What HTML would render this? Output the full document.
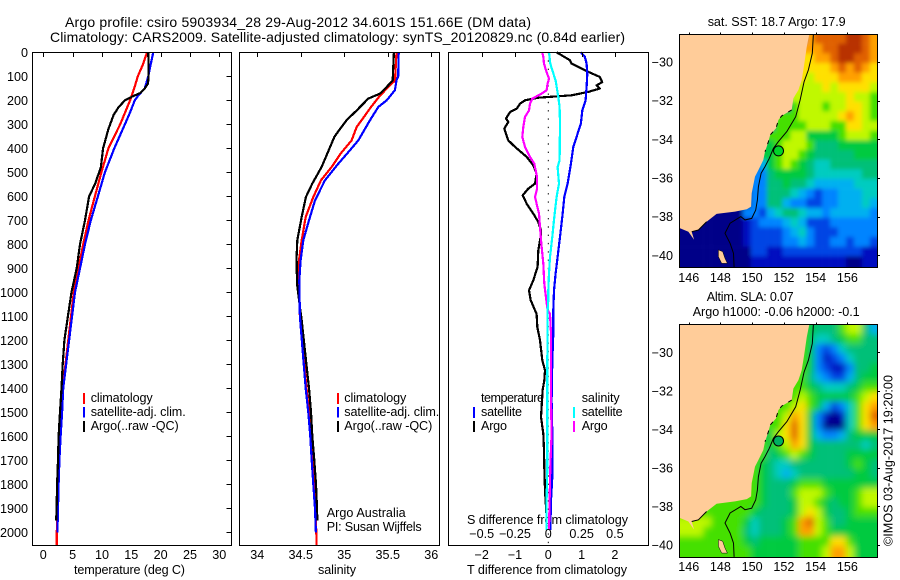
<!DOCTYPE html>
<html>
<head>
<meta charset="utf-8">
<title>Argo profile csiro 5903934_28</title>
<style>
html,body{margin:0;padding:0;background:#fff;}
svg{display:block;}
text{font-family:"Liberation Sans",sans-serif;font-size:12.6px;fill:#000;}
</style>
</head>
<body>
<svg id="fig" xmlns="http://www.w3.org/2000/svg" width="900" height="580" viewBox="0 0 900 580">
<rect x="0" y="0" width="900" height="580" fill="#fff"/>
<text x="65" y="27" style="font-size:14px" textLength="466">Argo profile: csiro 5903934_28 29-Aug-2012 34.601S 151.66E (DM data)</text>
<text x="50" y="42" style="font-size:14px" textLength="575">Climatology: CARS2009. Satellite-adjusted climatology: synTS_20120829.nc (0.84d earlier)</text>
<text x="74" y="574" textLength="111">temperature (deg C)</text>
<text x="318" y="574" textLength="38">salinity</text>
<text x="467" y="574" textLength="160">T difference from climatology</text>
<text x="467" y="524" textLength="161">S difference from climatology</text>
<text x="326.7" y="517" textLength="79">Argo Australia</text>
<text x="326.7" y="531" textLength="95">PI: Susan Wijffels</text>
<text x="707.7" y="26" textLength="138">sat. SST: 18.7 Argo: 17.9</text>
<text x="706.7" y="301" textLength="87">Altim. SLA: 0.07</text>
<text x="692.7" y="316" textLength="167">Argo h1000: -0.06 h2000: -0.1</text>
<text transform="translate(892.5,546) rotate(-90)" x="0" y="0" textLength="171">©IMOS 03-Aug-2017 19:20:00</text>
<g id="layer"></g>
</svg>
<script>
// ---- depth axis
const depthTicks = [0,100,200,300,400,500,600,700,800,900,1000,1100,1200,1300,1400,1500,1600,1700,1800,1900,2000];

// ---- temperature panel
const tempTicks = [0,5,10,15,20,25,30];
const climTempDepth = [0,50,100,150,200,300,400,500,600,700,800,900,1000,1400,1500,1600,1700,1800,1900,2000,2054];
const climTemp = [17.7,17.0,16.1,15.5,14.8,13.1,11.1,9.9,8.8,7.7,6.8,6.0,5.2,3.3,3.0,2.8,2.65,2.5,2.4,2.3,2.3];
const satTempDepth = [0,50,100,150,180,200,250,300,400,500,600,700,800,900,1000,1400,1500,1600,1700,1800,1900,2000];
const satTemp = [18.75,18.3,17.9,17.3,16.2,15.6,14.8,13.9,12.1,10.5,9.3,8.1,7.1,6.25,5.4,3.4,3.2,2.95,2.75,2.6,2.5,2.4];
const argoTempDepth = [0,100,130,150,170,185,200,230,260,320,400,480,550,600,700,800,900,1000,1100,1200,1300,1400,1500,1600,1700,1800,1900,1950];
const argoTemp = [17.9,17.95,17.85,17.3,16.5,15.1,13.9,12.8,12.0,11.1,10.2,9.8,8.8,7.8,7.1,6.25,5.7,4.8,4.2,3.6,3.3,3.1,2.85,2.6,2.5,2.35,2.27,2.2];

// ---- salinity panel
const salTicks = [34,34.5,35,35.5,36];
const climSalDepth = [0,100,117,144,186,228,283,311,367,422,478,533,603,686,783,867,978,1100,1400,1500,1600,1700,1800,1900,2000,2054];
const climSal = [35.6,35.585,35.585,35.505,35.399,35.307,35.199,35.142,35.084,34.958,34.854,34.732,34.644,34.556,34.51,34.479,34.479,34.49,34.565,34.594,34.615,34.632,34.65,34.667,34.678,34.682];
const satSalDepth = [0,100,117,158,200,228,283,367,408,464,533,617,700,783,867,950,1100,1400,1500,1600,1700,1800,1900,2000];
const satSal = [35.625,35.62,35.6,35.582,35.487,35.391,35.295,35.161,35.065,34.931,34.778,34.663,34.594,34.529,34.498,34.483,34.49,34.556,34.586,34.609,34.625,34.644,34.663,34.674];
const argoSalDepth = [0,117,144,172,193,214,242,283,325,353,422,478,547,603,686,783,853,964,1061,1117,1400,1500,1600,1700,1800,1900,1950];
const argoSal = [35.57,35.556,35.487,35.41,35.276,35.218,35.142,35.027,34.939,34.885,34.805,34.739,34.632,34.559,34.51,34.46,34.452,34.456,34.49,34.51,34.594,34.617,34.632,34.655,34.675,34.686,34.69];

// ---- difference panel
const dsTicks = [-0.5,-0.25,0,0.25,0.5];
const dsTickText = ["−0.5","−0.25","0","0.25","0.5"];
const dtTicks = [-2,-1,0,1,2];
const dtTickText = ["−2","−1","0","1","2"];
const argoDTDepth = [0,33,47,75,103,124,138,151,165,179,189,200,214,235,249,276,290,318,339,367,394,436,471,506,547,568,596,631,672,707,742,769,825,894,950,992,1033,1075,1089,1144,1200,1283,1325,1367,1408,1519,1589,1658,1728,1825,1936];
const argoDT = [0.25,0.65,0.70,1.10,1.55,1.62,1.45,1.55,1.20,0.70,-0.30,-0.70,-0.85,-0.95,-1.15,-1.27,-1.20,-1.32,-1.27,-1.20,-1.00,-0.65,-0.45,-0.35,-0.40,-0.60,-0.77,-0.65,-0.45,-0.30,-0.22,-0.23,-0.30,-0.32,-0.45,-0.58,-0.53,-0.40,-0.35,-0.33,-0.25,-0.18,-0.10,-0.12,-0.17,-0.22,-0.15,-0.13,-0.12,-0.10,-0.05];
const satDTDepth = [0,19,47,89,144,200,242,297,339,394,464,547,603,686,769,853,922,992,1075,1089,1172,1283,1450,1589,1770,1867,1990];
const satDT = [0.98,1.10,1.15,1.17,1.15,1.12,1.02,0.98,0.88,0.75,0.68,0.58,0.48,0.42,0.35,0.28,0.22,0.17,0.15,0.15,0.15,0.12,0.10,0.12,0.12,0.08,0.06];
const argoDSDepth = [0,19,47,75,110,131,158,172,193,214,242,269,311,353,394,436,464,519,569,603,672,783,880,964,1075,1089,1172,1283,1450,1589,1728,1867,1990];
const argoDS = [-0.045,-0.0375,-0.0325,-0.0175,0.005,-0.005,-0.0125,-0.05,-0.12,-0.1375,-0.145,-0.175,-0.1875,-0.195,-0.175,-0.1375,-0.105,-0.085,-0.085,-0.1,-0.07,-0.055,-0.0375,-0.03,-0.005,0.0125,0.02,0.02,0.02,0.025,0.015,0.01,0.005];
const satDSDepth = [0,47,75,117,186,228,297,450,478,547,603,686,769,853,922,992,1033,1075,1172,1283,1450,1728,1867,1990];
const satDS = [0.005,0.015,0.03,0.055,0.075,0.085,0.0875,0.085,0.07,0.08,0.0625,0.045,0.03,0.0125,0.005,0,0,-0.005,-0.005,-0.0075,-0.0075,-0.0075,-0.0125,-0.0125];

// ---- map axes
const lonTicks = [146,148,150,152,154,156];
const latTicks = [-30,-32,-34,-36,-38,-40];
const latTickText = ["−30","−32","−34","−36","−38","−40"];
const gridLonStart = 145.41;
const gridLonStep = 0.5;
const gridLatStart = -28.55;
const gridLatStep = 0.5;

// ---- satellite SST colour levels (rows north to south)
const sstLevels = [
[0,0,0,0,0,0,0,0,0,0,0,0,0,0,0,0,11,12,12,12,12,13,13,12,11],
[0,0,0,0,0,0,0,0,0,0,0,0,0,0,0,11,11,11,12,12,13,13,13,12,11],
[0,0,0,0,0,0,0,0,0,0,0,0,0,0,0,10,10,11,11,12,13,13,12,12,11],
[0,0,0,0,0,0,0,0,0,0,0,0,0,0,0,10,10,10,10,11,12,11,12,11,10],
[0,0,0,0,0,0,0,0,0,0,0,0,0,0,0,10,9,10,10,10,11,11,11,10,10],
[0,0,0,0,0,0,0,0,0,0,0,0,0,0,10,9,9,9,10,9,10,10,10,10,9],
[0,0,0,0,0,0,0,0,0,0,0,0,0,0,9,9,9,9,9,9,9,10,9,9,8],
[0,0,0,0,0,0,0,0,0,0,0,0,0,0,8,9,9,9,8,9,9,10,10,9,8],
[0,0,0,0,0,0,0,0,0,0,0,0,8,8,8,9,9,9,9,9,10,11,10,9,8],
[0,0,0,0,0,0,0,0,0,0,0,0,8,8,8,8,9,9,9,8,8,10,10,9,9],
[0,0,0,0,0,0,0,0,0,0,0,8,8,8,9,9,7,7,7,7,8,9,9,9,8],
[0,0,0,0,0,0,0,0,0,0,7,7,8,9,9,9,8,6,6,6,7,7,7,7,7],
[0,0,0,0,0,0,0,0,0,0,7,7,8,9,9,8,7,6,6,6,6,6,7,7,7],
[0,0,0,0,0,0,0,0,0,0,4,7,8,9,8,7,6,5,5,6,6,6,6,6,6],
[0,0,0,0,0,0,0,0,0,3,3,6,7,7,7,7,6,5,5,5,5,5,5,6,6],
[0,0,0,0,0,0,0,0,0,3,3,6,6,7,6,6,5,4,4,4,4,4,5,5,5],
[0,0,0,0,0,0,0,0,0,3,3,6,6,6,5,4,3,2,3,3,4,4,4,5,5],
[0,0,0,0,0,0,0,0,0,3,3,6,6,4,3,3,2,2,3,3,4,4,4,5,4],
[0,0,0,0,0,0,0,0,3,3,2,4,5,6,6,5,4,4,3,4,4,4,4,4,3],
[0,0,0,0,0,0,0,0,1,2,3,3,3,4,5,4,2,2,2,3,3,3,3,3,3],
[0,0,0,0,0,0,0,0,1,2,2,2,2,3,4,5,3,2,2,2,3,3,3,3,3],
[0,0,0,0,0,0,0,0,1,2,2,2,2,3,3,4,3,2,2,3,3,2,3,3,2],
[0,0,0,0,0,0,0,0,0,2,2,1,1,2,2,2,2,2,2,2,2,2,2,1,1],
[0,0,0,0,0,0,0,0,0,1,1,1,1,1,1,1,1,1,1,1,1,0,0,1,1]
];

// ---- altimeter SLA colour levels (rows north to south)
const slaLevels = [
[8,8,8,8,8,8,8,8,8,8,8,8,8,8,8,8,7,6,6,6,8,9,9,6,4],
[8,8,8,8,8,8,8,8,8,8,8,8,8,8,8,8,7,5,5,6,7,8,8,6,6],
[8,8,8,8,8,8,8,8,8,8,8,8,8,8,8,8,7,3,2,3,5,6,6,6,6],
[8,8,8,8,8,8,8,8,8,8,8,8,8,8,8,8,7,3,1,2,3,5,6,6,6],
[8,8,8,8,8,8,8,8,8,8,8,8,8,8,8,8,7,3,2,1,1,3,6,6,7],
[8,8,8,8,8,8,8,8,8,8,8,8,8,8,8,8,6,4,3,2,2,4,6,7,7],
[8,8,8,8,8,8,8,8,8,8,8,8,8,8,8,8,7,6,5,5,5,6,7,8,8],
[8,8,8,8,8,8,8,8,8,8,8,8,8,8,8,9,8,7,7,7,7,7,8,9,10],
[8,8,8,8,8,8,8,8,8,8,8,8,8,8,9,10,8,7,4,2,3,5,8,10,11],
[8,8,8,8,8,8,8,8,8,8,8,8,8,9,11,10,7,3,1,0,1,5,8,10,12],
[8,8,8,8,8,8,8,8,8,8,8,8,8,10,12,10,7,3,0,0,0,5,8,10,11],
[8,8,8,8,8,8,8,8,8,8,7,7,9,10,12,10,7,4,3,3,4,6,7,7,7],
[8,8,8,8,8,8,8,8,8,8,8,7,8,9,11,10,7,6,6,6,6,6,6,5,6],
[8,8,8,8,8,8,8,8,8,8,8,6,7,8,9,8,7,6,6,6,6,7,7,7,7],
[8,8,8,8,8,8,8,8,8,8,7,6,5,5,6,6,6,6,6,6,6,7,8,7,6],
[8,8,8,8,8,8,8,8,8,8,7,6,5,4,5,6,6,6,6,6,6,6,7,7,6],
[8,8,8,8,8,8,8,8,8,8,7,6,6,6,7,8,8,8,7,7,7,7,7,7,7],
[8,8,8,8,8,8,8,8,8,8,7,6,6,6,8,9,9,9,8,7,7,7,8,9,9],
[8,8,8,8,8,8,8,8,8,8,7,6,6,6,7,9,9,8,7,6,7,7,8,9,9],
[8,8,8,8,8,8,8,8,8,7,6,6,6,6,7,9,10,9,7,6,6,7,8,8,8],
[9,9,9,9,8,8,8,8,7,5,6,6,6,7,8,11,12,9,8,6,6,7,7,7,7],
[9,9,9,8,8,8,8,8,6,5,6,6,6,7,8,11,11,9,8,7,7,7,7,7,7],
[8,8,8,8,8,8,8,8,7,6,7,7,7,7,7,8,8,8,8,10,10,8,7,7,7],
[8,8,8,8,8,8,8,8,8,7,7,7,7,7,7,8,8,8,9,11,11,9,7,7,7]
];
const levelColours = ["#000088","#0010c0","#0044e4","#0084ff","#00b0f0","#00ccc0","#00c078","#00ca40","#44e000","#c0f800","#ffe000","#ffa000","#e06000","#b83000"];

// ---- geography
const coastLon = [153.6,153.44,153.27,153.12,152.91,152.6,152.49,151.86,151.65,151.5,151.13,151.02,150.81,150.7,150.39,150.18,149.97,149.93,149.66,148.92,147.76,147.13,146.61,146.19,146.34,145.98,145.45,145,145,153.6];
const coastLat = [-28.55,-29.2,-30.16,-30.93,-31.45,-31.88,-32.48,-32.79,-33.0,-33.43,-33.78,-34.12,-34.64,-35.07,-35.59,-35.93,-36.79,-37.48,-37.62,-37.74,-37.86,-38.26,-38.69,-38.78,-39.2,-38.78,-38.6,-38.6,-28,-28];
const rocksLon = [152.49,151.86,151.65,151.5,151.13,151.02,150.81];
const rocksLat = [-32.48,-32.79,-33.0,-33.43,-33.78,-34.12,-34.64];
const southRocksLon = [147.13,146.61,146.19];
const southRocksLat = [-38.26,-38.69,-38.78];
const islandLon = [147.87,148.14,148.29,148.44,148.08,147.87];
const islandLat = [-39.72,-39.81,-40.16,-40.42,-40.42,-40.07];
const contourLon = [153.86,153.79,153.54,153.27,153.02,152.74,152.18,151.65,151.34,151.08,150.81,150.56,150.39,150.33,150.22,149.97,149.55,149.28,148.61,148.29,148.61,148.82,148.86];
const contourLat = [-28.55,-29.55,-30.41,-31.02,-31.97,-32.83,-33.6,-34.12,-34.47,-34.98,-35.41,-35.76,-36.45,-37.14,-37.66,-38.09,-38.17,-38.0,-38.34,-38.86,-39.38,-39.9,-40.62];
const profileLon = 151.66;
const profileLat = -34.6;

// ---- axis functions
const yDepth = d => 52.3 + d * 0.24;
const xTemp = t => 43.3 + t * 5.867;
const xSal = s => 257.3 + (s - 34) * 87;
const xDT = v => 548.3 + v * 33.3;
const xDS = v => 548.3 + v * 133.2;
const mapX = lon => 688.7 + (lon - 146) * 15.87;
const mapYTop = lat => 62 + (-30 - lat) * 19.33;
const mapYBot = lat => 352.3 + (-30 - lat) * 19.27;

const NS = "http://www.w3.org/2000/svg";
const layer = document.getElementById("layer");
function make(tag, parent, attrs) {
  const el = document.createElementNS(NS, tag);
  for (const k in attrs) el.setAttribute(k, attrs[k]);
  parent.appendChild(el);
  return el;
}
function pts(xs, ys, fx, fy) {
  return xs.map((x, i) => fx(x).toFixed(1) + "," + fy(ys[i]).toFixed(1)).join(" ");
}
function drawSeries(name, xs, ds, fx, colour, width) {
  const el = make("polyline", layer, {points: pts(xs, ds, fx, yDepth), fill: "none", stroke: colour, "stroke-width": width, "shape-rendering": "crispEdges", "stroke-linejoin": "round"});
  
  
}
function drawTick(name, x1, y1, x2, y2) {
  const el = make("line", layer, {x1: x1, y1: y1, x2: x2, y2: y2, stroke: "#000", "stroke-width": 1, "shape-rendering": "crispEdges"});
  
  
}
function drawLabel(name, x, y, str, anchor) {
  const el = make("text", layer, {x: x, y: y, "text-anchor": anchor});
  el.textContent = str;
  
  
}
function drawBox(name, x, y, w, h) {
  const el = make("rect", layer, {x: x, y: y, width: w, height: h, fill: "none", stroke: "#000", "stroke-width": 1, "shape-rendering": "crispEdges"});
  
  
}
function drawLegendBar(name, x, y1, y2, colour) {
  const el = make("rect", layer, {x: x, y: y1, width: 2, height: y2 - y1, fill: colour});
  
  
}
function drawLegendText(name, x, y, str, len) {
  const el = make("text", layer, {x: x, y: y, textLength: len});
  el.textContent = str;
  
  
}

// ---- panel 1
drawSeries("climatology-temperature-line", climTemp, climTempDepth, xTemp, "#ff0000", 2.2);
drawSeries("satellite-temperature-line", satTemp, satTempDepth, xTemp, "#0000ff", 2.2);
drawSeries("argo-temperature-line", argoTemp, argoTempDepth, xTemp, "#000000", 2.2);
drawBox("temperature-panel-frame", 32.5, 52.5, 199, 493);
depthTicks.forEach(d => {
  drawTick("depth-tick", 226.5, Math.round(yDepth(d)) + 0.5, 231.5, Math.round(yDepth(d)) + 0.5);
  drawLabel("depth-tick-label", 28, yDepth(d) + 4.5, String(d), "end");
});
tempTicks.forEach(t => {
  drawTick("temperature-tick", Math.round(xTemp(t)) + 0.5, 52.5, Math.round(xTemp(t)) + 0.5, 57);
  drawLabel("temperature-tick-label", xTemp(t), 559, String(t), "middle");
});

// ---- panel 2
drawSeries("climatology-salinity-line", climSal, climSalDepth, xSal, "#ff0000", 2.2);
drawSeries("argo-salinity-line", argoSal, argoSalDepth, xSal, "#000000", 2.2);
drawSeries("satellite-salinity-line", satSal, satSalDepth, xSal, "#0000ff", 2.2);
drawBox("salinity-panel-frame", 239.5, 52.5, 200, 493);
salTicks.forEach(s => {
  drawTick("salinity-tick", Math.round(xSal(s)) + 0.5, 52.5, Math.round(xSal(s)) + 0.5, 57);
  drawLabel("salinity-tick-label", xSal(s), 559, String(s), "middle");
});

// ---- panel 3
const zeroLine = make("line", layer, {x1: xDT(0), y1: 52, x2: xDT(0), y2: 545, stroke: "#000", "stroke-width": 1, "stroke-dasharray": "1.4 6.9"});


drawSeries("argo-t-difference-line", argoDT, argoDTDepth, xDT, "#000000", 2.2);
drawSeries("satellite-t-difference-line", satDT, satDTDepth, xDT, "#0000ff", 2.2);
drawSeries("argo-s-difference-line", argoDS, argoDSDepth, xDS, "#ff00ff", 2.2);
drawSeries("satellite-s-difference-line", satDS, satDSDepth, xDS, "#00ffff", 2.2);
drawBox("difference-panel-frame", 448.5, 52.5, 200, 493);
dsTicks.forEach((v, i) => {
  if (v !== 0) drawTick("s-difference-tick", Math.round(xDS(v)) + 0.5, 52.5, Math.round(xDS(v)) + 0.5, 57);
  drawLabel("s-difference-tick-label", xDS(v), 538, dsTickText[i], "middle");
});
dtTicks.forEach((v, i) => {
  drawLabel("t-difference-tick-label", xDT(v), 559, dtTickText[i], "middle");
});

// ---- legends
drawLegendBar("legend-climatology-swatch", 83, 393, 404, "#ff0000");
drawLegendBar("legend-satellite-swatch", 83, 407, 417.5, "#0000ff");
drawLegendBar("legend-argo-swatch", 83, 421, 432, "#000000");
drawLegendText("legend-climatology-label", 90.7, 402, "climatology", 62);
drawLegendText("legend-satellite-label", 90.7, 416, "satellite-adj. clim.", 95);
drawLegendText("legend-argo-label", 90.7, 430, "Argo(..raw -QC)", 88);
drawLegendBar("legend-climatology-swatch", 337, 393, 404, "#ff0000");
drawLegendBar("legend-satellite-swatch", 337, 407, 417.5, "#0000ff");
drawLegendBar("legend-argo-swatch", 337, 421, 432, "#000000");
drawLegendText("legend-climatology-label", 344.3, 402, "climatology", 62);
drawLegendText("legend-satellite-label", 344.3, 416, "satellite-adj. clim.", 95);
drawLegendText("legend-argo-label", 344.3, 430, "Argo(..raw -QC)", 88);
drawLegendText("legend-temperature-heading", 481, 402, "temperature", 63);
drawLegendBar("legend-t-satellite-swatch", 473, 407, 418, "#0000ff");
drawLegendBar("legend-t-argo-swatch", 473, 421, 432, "#000000");
drawLegendText("legend-t-satellite-label", 481, 416, "satellite", 41);
drawLegendText("legend-t-argo-label", 481, 430, "Argo", 26);
drawLegendText("legend-salinity-heading", 581.7, 402, "salinity", 38);
drawLegendBar("legend-s-satellite-swatch", 573, 407, 418, "#00ffff");
drawLegendBar("legend-s-argo-swatch", 573, 421, 432, "#ff00ff");
drawLegendText("legend-s-satellite-label", 581.7, 416, "satellite", 41);
drawLegendText("legend-s-argo-label", 581.7, 430, "Argo", 26);

// ---- maps
const defs = make("defs", layer, {});
function drawMap(key, levels, yFn, boxY, boxH, blur, markerFill, lonLabelY) {
  const clip = make("clipPath", defs, {id: key + "-clip"});
  make("rect", clip, {x: 679.5, y: boxY, width: 198, height: boxH});
  const f = make("filter", defs, {id: key + "-blur", filterUnits: "userSpaceOnUse", x: 650, y: boxY - 30, width: 260, height: boxH + 60});
  make("feGaussianBlur", f, {stdDeviation: blur});
  const group = make("g", layer, {"clip-path": "url(#" + key + "-clip)"});
  
  
  const cells = make("g", group, {filter: "url(#" + key + "-blur)"});
  
  
  levels.forEach((row, r) => {
    row.forEach((level, c) => {
      const lon0 = gridLonStart + c * gridLonStep;
      const lat0 = gridLatStart - r * gridLatStep;
      let x0 = mapX(lon0), y0 = yFn(lat0);
      let x1 = mapX(lon0 + gridLonStep) + 0.3, y1 = yFn(lat0 - gridLatStep) + 0.3;
      if (c === 0) x0 -= 20;
      if (c === row.length - 1) x1 += 20;
      if (r === 0) y0 -= 20;
      if (r === levels.length - 1) y1 += 20;
      const cell = make("rect", cells, {x: x0.toFixed(2), y: y0.toFixed(2), width: (x1 - x0).toFixed(2), height: (y1 - y0).toFixed(2), fill: levelColours[level]});
      
      
    });
  });
  const land = make("polygon", group, {points: pts(coastLon, coastLat, mapX, yFn), fill: "#ffcc99"});
  
  
  const rocks = make("polyline", group, {points: pts(rocksLon, rocksLat, mapX, yFn), fill: "none", stroke: "#000", "stroke-width": 1, "stroke-dasharray": "4 6"});
  
  
  const southRocks = make("polyline", group, {points: pts(southRocksLon, southRocksLat, mapX, yFn), fill: "none", stroke: "#000", "stroke-width": 1});
  
  
  const island = make("polygon", group, {points: pts(islandLon, islandLat, mapX, yFn), fill: "#ffcc99", stroke: "#000", "stroke-width": 0.5});
  
  
  const contour = make("polyline", group, {points: pts(contourLon, contourLat, mapX, yFn), fill: "none", stroke: "#000", "stroke-width": 1});
  
  
  const marker = make("circle", group, {cx: mapX(profileLon), cy: yFn(profileLat), r: 5, fill: markerFill, stroke: "#000", "stroke-width": 1});
  
  
  drawBox(key + "-map-frame", 679.5, boxY, 198, boxH);
  lonTicks.forEach(lon => {
    drawTick(key + "-longitude-tick", Math.round(mapX(lon)) + 0.5, boxY - 2, Math.round(mapX(lon)) + 0.5, boxY);
    drawLabel(key + "-longitude-label", mapX(lon), lonLabelY, String(lon), "middle");
  });
  latTicks.forEach((lat, i) => {
    drawTick(key + "-latitude-tick", 877.5, Math.round(yFn(lat)) + 0.5, 880, Math.round(yFn(lat)) + 0.5);
    drawLabel(key + "-latitude-label", 673, yFn(lat) + 4.5, latTickText[i], "end");
  });
}
drawMap("sst", sstLevels, mapYTop, 34.5, 233, 2, "#00d428", 282);
drawMap("sla", slaLevels, mapYBot, 324.5, 233, 3.5, "#00b060", 571);
</script>
</body>
</html>
